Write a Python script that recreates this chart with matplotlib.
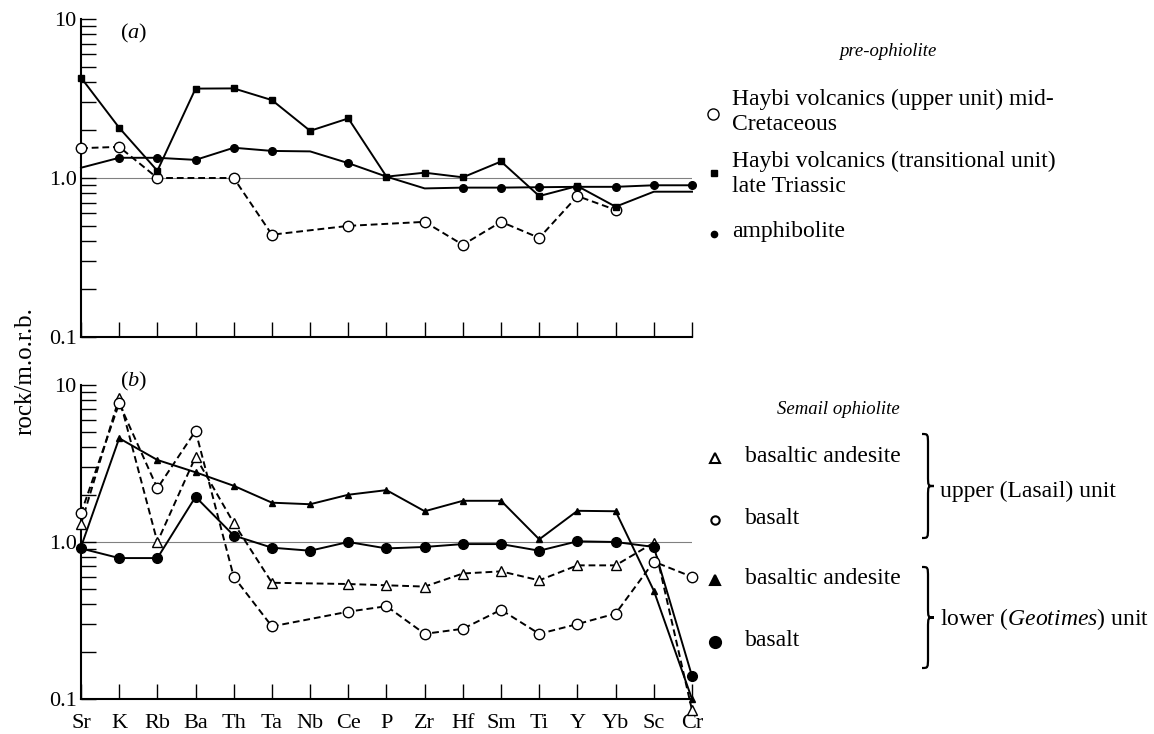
import matplotlib
matplotlib.use('Agg')
import matplotlib.pyplot as plt
from matplotlib.path import Path
from matplotlib.patches import PathPatch
from matplotlib.ticker import LogLocator, NullFormatter

plt.rcParams['font.family'] = 'serif'
plt.rcParams['font.serif'] = ['Liberation Serif', 'DejaVu Serif']
plt.rcParams['mathtext.fontset'] = 'custom'
plt.rcParams['mathtext.rm'] = 'Liberation Serif'
plt.rcParams['mathtext.it'] = 'Liberation Serif:italic'

ELEMENTS = ['Sr', 'K', 'Rb', 'Ba', 'Th', 'Ta', 'Nb', 'Ce', 'P', 'Zr',
            'Hf', 'Sm', 'Ti', 'Y', 'Yb', 'Sc', 'Cr']

# panel (a): pre-ophiolite (None = no point on the line)
haybi_upper = [1.54, 1.57, 1.0, None, 1.0, 0.44, None, 0.50, None, 0.53,
               0.38, 0.53, 0.42, 0.77, 0.63, None, None]
haybi_trans = [4.28, 2.07, 1.11, 3.65, 3.66, 3.09, 1.98, 2.37, 1.02, 1.08,
               1.01, 1.27, 0.77, 0.89, 0.66, 0.82, 0.82]
amphibolite = [1.16, 1.34, 1.34, 1.30, 1.55, 1.48, 1.47, 1.24, 1.02, 0.86,
               0.87, 0.87, 0.875, 0.88, 0.88, 0.90, 0.90]

# panel (b): Semail ophiolite
upper_andesite = [1.30, 8.3, 1.0, 3.49, 1.32, 0.55, None, 0.54, 0.53, 0.52,
                  0.63, 0.65, 0.57, 0.71, 0.71, 0.99, 0.085]
upper_basalt = [1.52, 7.65, 2.2, 5.1, 0.60, 0.29, None, 0.36, 0.39, 0.26,
                0.28, 0.37, 0.26, 0.30, 0.35, 0.75, 0.60]
lower_andesite = [0.93, 4.58, 3.33, 2.78, 2.28, 1.78, 1.74, 2.0, 2.14, 1.57,
                  1.83, 1.83, 1.04, 1.58, 1.57, 0.49, 0.10]
lower_basalt = [0.91, 0.79, 0.79, 1.94, 1.10, 0.92, 0.88, 1.0, 0.91, 0.93,
                0.97, 0.97, 0.88, 1.01, 1.0, 0.93, 0.14]

W, H = 1154, 734
FS = 16
LFS = 17
HFS = 13.5


def px_axes(fig, left, top, right, bottom):
    return fig.add_axes([left / W, 1 - bottom / H, (right - left) / W, (bottom - top) / H])


def style_axes(ax, show_xlabels):
    ax.set_yscale('log')
    ax.set_ylim(0.1, 10)
    ax.set_xlim(0, len(ELEMENTS) - 1)
    ax.set_yticks([0.1, 1, 10])
    ax.set_yticklabels(['0.1', '1.0', '10'])
    ax.yaxis.set_minor_locator(LogLocator(base=10, subs=range(2, 10)))
    ax.yaxis.set_minor_formatter(NullFormatter())
    ax.tick_params(axis='y', which='both', direction='in', length=11, width=1,
                   labelsize=FS, pad=3)
    ax.set_xticks(range(len(ELEMENTS)))
    if show_xlabels:
        ax.set_xticklabels(ELEMENTS)
    else:
        ax.set_xticklabels([])
    ax.tick_params(axis='x', direction='in', length=11, width=1, labelsize=FS, pad=11)
    for side in ['top', 'right']:
        ax.spines[side].set_visible(False)
    for side in ['left', 'bottom']:
        ax.spines[side].set_linewidth(1.5)
    ax.axhline(1.0, color='0.5', lw=0.8, zorder=1)
    ax.patch.set_alpha(0)


def plot_series(ax, values, marker, ms, filled, dashed, unmarked=()):
    xs = [i for i, v in enumerate(values) if v is not None]
    ys = [values[i] for i in xs]
    line, = ax.plot(xs, ys, color='black', lw=1.4, clip_on=False, zorder=2)
    if dashed:
        line.set_dashes((3.5, 2))
    mx = [i for i in xs if ELEMENTS[i] not in unmarked]
    ax.plot(mx, [values[i] for i in mx], ls='none', marker=marker, ms=ms,
            mfc='black' if filled else 'white', mec='black', mew=1.0,
            clip_on=False, zorder=3)


def brace(ax, x0, top, bottom, width):
    mid = (top + bottom) / 2
    xm = x0 + width / 2
    q = width * 0.9
    verts = [(x0, top), (xm, top), (xm, top), (xm, top + q),
             (xm, mid - q),
             (xm, mid), (xm, mid), (x0 + width, mid),
             (xm, mid), (xm, mid), (xm, mid + q),
             (xm, bottom - q),
             (xm, bottom), (xm, bottom), (x0, bottom)]
    codes = [Path.MOVETO, Path.CURVE4, Path.CURVE4, Path.CURVE4,
             Path.LINETO,
             Path.CURVE4, Path.CURVE4, Path.CURVE4,
             Path.CURVE4, Path.CURVE4, Path.CURVE4,
             Path.LINETO,
             Path.CURVE4, Path.CURVE4, Path.CURVE4]
    ax.add_patch(PathPatch(Path(verts, codes), fc='none', ec='black', lw=1.6))


fig = plt.figure(figsize=(W / 100, H / 100), dpi=100)

ax_a = px_axes(fig, 81, 19, 692, 337)
style_axes(ax_a, False)
plot_series(ax_a, haybi_upper, 'o', 7.5, False, True)
plot_series(ax_a, haybi_trans, 's', 5, True, False, unmarked=('Sc', 'Cr'))
plot_series(ax_a, amphibolite, 'o', 5.5, True, False, unmarked=('Sr', 'Nb', 'P', 'Zr'))

ax_b = px_axes(fig, 81, 385, 692, 699)
style_axes(ax_b, True)
plot_series(ax_b, upper_andesite, '^', 6.5, False, True, unmarked=('Nb',))
plot_series(ax_b, upper_basalt, 'o', 7.5, False, True)
plot_series(ax_b, lower_andesite, '^', 5, True, False)
plot_series(ax_b, lower_basalt, 'o', 7, True, False)

# overlay in pixel coordinates for labels and the legend
ov = fig.add_axes([0, 0, 1, 1])
ov.set_xlim(0, W)
ov.set_ylim(H, 0)
ov.axis('off')
ov.patch.set_alpha(0)

ov.text(25, 371, 'rock/m.o.r.b.', rotation=90, ha='center', va='center', fontsize=18)
ov.text(120, 33, r'($\mathit{a}$)', ha='left', va='center', fontsize=FS)
ov.text(120, 381, r'($\mathit{b}$)', ha='left', va='center', fontsize=FS)

ov.text(888, 52, 'pre-ophiolite', style='italic', ha='center', va='center', fontsize=HFS)
ov.plot(713, 114, marker='o', ms=8, mfc='white', mec='black', mew=1.0)
ov.text(732, 112, 'Haybi volcanics (upper unit) mid-\nCretaceous', ha='left', va='center',
        fontsize=LFS, linespacing=1.2)
ov.plot(714, 173, marker='s', ms=5, mfc='black', mec='black')
ov.text(732, 174, 'Haybi volcanics (transitional unit)\nlate Triassic', ha='left', va='center',
        fontsize=LFS, linespacing=1.2)
ov.plot(714, 234, marker='o', ms=4.5, mfc='black', mec='black')
ov.text(732, 232, 'amphibolite', ha='left', va='center', fontsize=LFS)

ov.text(838, 410, 'Semail ophiolite', style='italic', ha='center', va='center', fontsize=HFS)
legend_b = [(458, '^', 6.5, False, 'basaltic andesite'),
            (520, 'o', 6, False, 'basalt'),
            (580, '^', 6.5, True, 'basaltic andesite'),
            (642, 'o', 8, True, 'basalt')]
for y, m, ms, filled, label in legend_b:
    ov.plot(715, y, marker=m, ms=ms, mfc='black' if filled else 'white', mec='black', mew=1.5)
    ov.text(745, y - 2, label, ha='left', va='center', fontsize=LFS)

brace(ov, 922, 434, 538, 12)
brace(ov, 922, 567, 668, 12)
ov.text(940, 491, 'upper (Lasail) unit', ha='left', va='center', fontsize=LFS)
ov.text(940, 619, r'lower ($\mathit{Geotimes}$) unit', ha='left', va='center', fontsize=LFS)

fig.savefig('out.png', dpi=100)
